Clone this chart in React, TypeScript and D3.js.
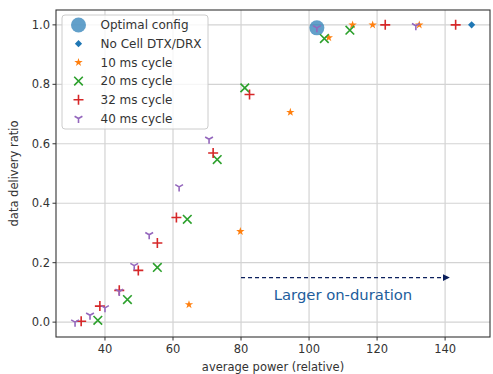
import React from "react";
import * as d3 from "d3";

// data
const optimalX = [102.3];
const optimalY = [0.99];

const noDtxX = [147.8];
const noDtxY = [1.0];

const c10X = [64.7, 79.8, 94.5, 105.8, 112.8, 118.7, 132.4];
const c10Y = [0.059, 0.305, 0.706, 0.957, 1.0, 1.0, 1.0];

const c20X = [37.9, 46.6, 55.4, 64.2, 73.0, 81.1, 104.5, 112.0];
const c20Y = [0.006, 0.076, 0.184, 0.346, 0.547, 0.788, 0.954, 0.982];

const c32X = [33.0, 38.5, 44.2, 49.8, 55.4, 61.0, 71.8, 82.5, 122.4, 143.1];
const c32Y = [0.003, 0.054, 0.107, 0.174, 0.266, 0.352, 0.569, 0.766, 1.0, 1.0];

const c40X = [31.2, 35.6, 40.0, 44.2, 48.6, 53.0, 61.8, 70.6, 102.3, 131.4];
const c40Y = [0.0, 0.023, 0.048, 0.103, 0.19, 0.294, 0.455, 0.615, 0.99, 0.997];

const xTicks = [40, 60, 80, 100, 120, 140];
const yTicks = [0.0, 0.2, 0.4, 0.6, 0.8, 1.0];

const arrowFrom = [80, 0.15];
const arrowTo = [140, 0.15];

const W = 493;
const H = 374;
const margin = { left: 56, right: 3, top: 10, bottom: 37 };
const font = "DejaVu Sans, sans-serif";

const starPath = d3.symbol(d3.symbolStar, 22)();

const Marker = ({ kind, x, y }: { kind: string; x: number; y: number }) => {
    if (kind === "circle")
        return <circle cx={x} cy={y} r={7.5} fill="#1f77b4" opacity={0.7} />;
    if (kind === "diamond") {
        const r = 3.6;
        return (
            <path
                d={`M${x},${y - r}L${x + r},${y}L${x},${y + r}L${x - r},${y}Z`}
                fill="#1f77b4"
            />
        );
    }
    if (kind === "star")
        return <path d={starPath as string} transform={`translate(${x},${y})`} fill="#ff7f0e" />;
    if (kind === "x") {
        const r = 4.3;
        return (
            <path
                d={`M${x - r},${y - r}L${x + r},${y + r}M${x - r},${y + r}L${x + r},${y - r}`}
                stroke="#2ca02c"
                strokeWidth={1.6}
            />
        );
    }
    if (kind === "plus") {
        const r = 5;
        return (
            <path
                d={`M${x - r},${y}L${x + r},${y}M${x},${y - r}L${x},${y + r}`}
                stroke="#d62728"
                strokeWidth={1.6}
            />
        );
    }
    // tri_down
    const r = 4.5;
    return (
        <path
            d={`M${x},${y}L${x},${y + r}M${x},${y}L${x - r * 0.866},${y - r * 0.5}M${x},${y}L${x + r * 0.866},${y - r * 0.5}`}
            stroke="#9467bd"
            strokeWidth={1.6}
            fill="none"
        />
    );
};

const series = [
    { label: "Optimal config", kind: "circle", xs: optimalX, ys: optimalY },
    { label: "No Cell DTX/DRX", kind: "diamond", xs: noDtxX, ys: noDtxY },
    { label: "10 ms cycle", kind: "star", xs: c10X, ys: c10Y },
    { label: "20 ms cycle", kind: "x", xs: c20X, ys: c20Y },
    { label: "32 ms cycle", kind: "plus", xs: c32X, ys: c32Y },
    { label: "40 ms cycle", kind: "tri", xs: c40X, ys: c40Y },
];

const App = () => {
    const x = d3.scaleLinear().domain([25.6, 153.2]).range([margin.left, W - margin.right]);
    const y = d3.scaleLinear().domain([-0.05, 1.05]).range([H - margin.bottom, margin.top]);
    const [x0, x1] = x.range();
    const [yb, yt] = y.range();

    return (
        <svg
            width={W}
            height={H}
            style={{ position: "absolute", left: 0, top: 0, background: "#fff" }}
            fontFamily={font}
        >
            {/* grid */}
            {xTicks.map((t) => (
                <line key={"gx" + t} x1={x(t)} x2={x(t)} y1={yt} y2={yb} stroke="#d3d3d3" strokeWidth={1.2} />
            ))}
            {yTicks.map((t) => (
                <line key={"gy" + t} x1={x0} x2={x1} y1={y(t)} y2={y(t)} stroke="#d3d3d3" strokeWidth={1.2} />
            ))}

            {/* annotation arrow */}
            <defs>
                <marker id="ah" viewBox="0 0 10 10" refX="9" refY="5" markerWidth="6" markerHeight="6" orient="auto">
                    <path d="M0,0L10,5L0,10Z" fill="#0b1f5c" />
                </marker>
            </defs>
            <line
                x1={x(arrowFrom[0])}
                y1={y(arrowFrom[1])}
                x2={x(arrowTo[0]) + 4}
                y2={y(arrowTo[1])}
                stroke="#0b1f5c"
                strokeWidth={1.2}
                strokeDasharray="4,3"
                markerEnd="url(#ah)"
            />
            <text x={343} y={300} textAnchor="middle" fontSize={14.8} fill="#215d9c">
                Larger on-duration
            </text>

            {/* points */}
            {series.map((s) =>
                s.xs.map((v, i) => <Marker key={s.label + i} kind={s.kind} x={x(v)} y={y(s.ys[i])} />)
            )}

            {/* spines */}
            <rect x={x0} y={yt} width={x1 - x0} height={yb - yt} fill="none" stroke="#333" strokeWidth={1.1} />

            {/* x axis ticks */}
            {xTicks.map((t) => (
                <g key={"xt" + t}>
                    <line x1={x(t)} x2={x(t)} y1={yb} y2={yb + 3.5} stroke="#333" />
                    <text x={x(t)} y={yb + 16} textAnchor="middle" fontSize={11.5} fill="#333">
                        {t}
                    </text>
                </g>
            ))}
            {yTicks.map((t) => (
                <g key={"yt" + t}>
                    <line x1={x0 - 3.5} x2={x0} y1={y(t)} y2={y(t)} stroke="#333" />
                    <text x={x0 - 6} y={y(t) + 4} textAnchor="end" fontSize={11.5} fill="#333">
                        {t.toFixed(1)}
                    </text>
                </g>
            ))}
            <text x={(x0 + x1) / 2} y={371} textAnchor="middle" fontSize={11.5} fill="#333">
                average power (relative)
            </text>
            <text
                transform={`translate(18,${(yt + yb) / 2}) rotate(-90)`}
                textAnchor="middle"
                fontSize={11.5}
                fill="#333"
            >
                data delivery ratio
            </text>

            {/* legend */}
            <rect x={62} y={15} width={146} height={114} rx={3} fill="#fff" fillOpacity={0.8} stroke="#ccc" />
            {series.map((s, i) => (
                <g key={"lg" + i}>
                    <Marker kind={s.kind} x={78.5} y={25 + i * 18.7} />
                    <text x={100.5} y={25 + i * 18.7 + 4.3} fontSize={12} fill="#333">
                        {s.label}
                    </text>
                </g>
            ))}
        </svg>
    );
};

export default App;
